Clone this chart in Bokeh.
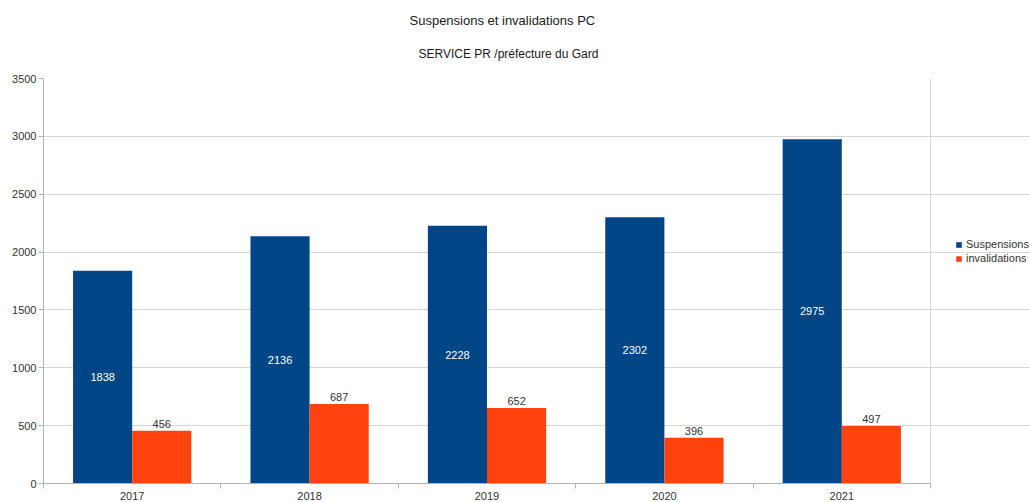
from bokeh.plotting import figure
from bokeh.models import (ColumnDataSource, Range1d, FixedTicker, Title, Legend,
                          LegendItem)
from bokeh.core.properties import value
from bokeh.embed import file_html
from bokeh.resources import INLINE

years = ["2017", "2018", "2019", "2020", "2021"]
suspensions = [1838, 2136, 2228, 2302, 2975]
invalidations = [456, 687, 652, 396, 497]
y_ticks = [0, 500, 1000, 1500, 2000, 2500, 3000, 3500]

FONT = "Liberation Sans"
BLUE = "#004586"
ORANGE = "#ff420e"
GREY = "#b3b3b3"
GRID = "#d6d6d6"
TXT = "#333333"

n = len(years)
pos = [i + 1 for i in range(n)]
x_lo, x_hi = 0.5, n + 0.5          # plotted category span
x_view_end = x_lo + n * 987 / 887  # frame extends right to hold the legend
y_max = y_ticks[-1]

src = ColumnDataSource(dict(
    x=pos,
    xs=[p_ - 1 / 6 for p_ in pos],
    xi=[p_ + 1 / 6 for p_ in pos],
    sus=suspensions,
    sus_mid=[v / 2 for v in suspensions],
    sus_lbl=[str(v) for v in suspensions],
    inv=invalidations,
    inv_lbl=[str(v) for v in invalidations],
))

p = figure(width=1030, height=502, output_backend="svg", toolbar_location=None,
           x_range=Range1d(x_lo, x_view_end), y_range=Range1d(0, y_max),
           min_border_left=43, min_border_right=0, min_border_top=0,
           min_border_bottom=0, title=None)
p.background_fill_color = "white"
p.border_fill_color = "white"
p.outline_line_color = None

r1 = p.vbar(x="xs", top="sus", width=1 / 3, source=src, fill_color=BLUE,
            line_color=None)
r2 = p.vbar(x="xi", top="inv", width=1 / 3, source=src, fill_color=ORANGE,
            line_color=None)

p.text(x="xs", y="sus_mid", text="sus_lbl", source=src, text_color="white",
       text_font=value(FONT), text_font_size="11px",
       text_align="center", text_baseline="middle")
p.text(x="xi", y="inv", text="inv_lbl", source=src, text_color=TXT,
       text_font=value(FONT), text_font_size="11px", text_align="center",
       text_baseline="bottom", y_offset=-3)

# axes
xa = p.xaxis[0]
xa.ticker = FixedTicker(ticks=pos, minor_ticks=[i + 0.5 for i in range(n + 1)])
xa.major_label_overrides = {p_: y for p_, y in zip(pos, years)}
xa.bounds = (x_lo, x_hi)
xa.major_tick_out = 0
xa.major_tick_in = 0
xa.minor_tick_out = 5
xa.minor_tick_in = 0
xa.minor_tick_line_color = GREY
xa.axis_line_color = GREY
xa.major_label_standoff = 3
xa.major_label_text_font = FONT
xa.major_label_text_font_size = "11px"
xa.major_label_text_color = TXT

ya = p.yaxis[0]
ya.ticker = FixedTicker(ticks=y_ticks)
ya.major_tick_out = 5
ya.major_tick_in = 0
ya.minor_tick_out = 0
ya.minor_tick_in = 0
ya.major_tick_line_color = GREY
ya.axis_line_color = GREY
ya.major_label_standoff = 2
ya.major_label_text_font = FONT
ya.major_label_text_font_size = "11px"
ya.major_label_text_color = TXT

p.ygrid.grid_line_color = GRID
p.ygrid.ticker = FixedTicker(ticks=y_ticks)
p.ygrid.bounds = (x_lo, x_hi)
# right border of the plotting area
p.xgrid.ticker = FixedTicker(ticks=[x_hi])
p.xgrid.grid_line_color = GRID
p.xgrid.bounds = (0, y_max)

# titles
spacer = Title(text=" ", text_font=FONT, text_font_size="1px", standoff=8)
sub = Title(text="SERVICE PR /préfecture du Gard", align="left", offset=375,
            text_font=FONT, text_font_size="12px", text_font_style="normal",
            text_color="#1a1a1a", standoff=14)
main = Title(text="Suspensions et invalidations PC", align="left", offset=366,
             text_font=FONT, text_font_size="13px", text_font_style="normal",
             text_color="#1a1a1a", standoff=20)
p.add_layout(spacer, "above")
p.add_layout(sub, "above")
p.add_layout(main, "above")

legend = Legend(items=[LegendItem(label="Suspensions", renderers=[r1]),
                       LegendItem(label="invalidations", renderers=[r2])],
                location=(912, 219), glyph_width=7, glyph_height=7,
                label_height=12, spacing=2, label_standoff=4, padding=0,
                margin=0, border_line_color=None, background_fill_alpha=0,
                label_text_font=FONT, label_text_font_size="11px",
                label_text_color=TXT)
p.add_layout(legend)

open("out.html", "w").write(file_html(p, INLINE))
